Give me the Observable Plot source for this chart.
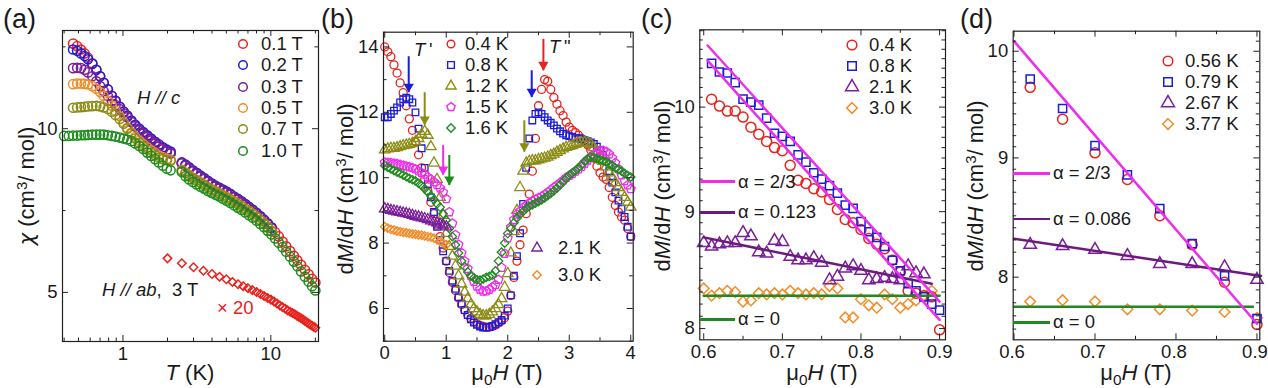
<!DOCTYPE html>
<html><head><meta charset="utf-8">
<script src="https://cdn.jsdelivr.net/npm/d3@7"></script>
<script src="https://cdn.jsdelivr.net/npm/@observablehq/plot@0.6"></script>
<style>
html,body{margin:0;padding:0;background:#fff;}
#fig{position:relative;width:1268px;height:388px;overflow:hidden;background:#fff;font-family:"Liberation Sans",Arial,Helvetica,sans-serif;color:#1a1a1a;}
.tx{position:absolute;white-space:nowrap;line-height:1;}
.c{transform:translate(-50%,-50%);}
.l{transform:translate(0,-50%);}
.rot{transform:translate(-50%,-50%) rotate(-90deg);}
sub{font-size:0.7em;vertical-align:-0.3em;line-height:0;}
sup{font-size:0.68em;vertical-align:0.5em;line-height:0;}
.chi{font-family:"DejaVu Sans",sans-serif;font-style:italic;font-size:0.95em;}
</style></head>
<body><div id="fig"></div>
<script>
// ---------------- colours ----------------
const RED = "#e8221c", BLUE = "#1c1cdb", PURPLE = "#7a1e9b", ORANGE = "#f28c28",
      OLIVE = "#8c8c14", GREEN = "#1e8c1e", MAGENTA = "#ee2dee", FITPURPLE = "#6d1a7e", FITGREEN = "#1f8a1f";

// ---------------- panel (a) data ----------------
const aTLow = [0.40,0.43,0.46,0.49,0.52,0.55,0.58,0.62,0.66,0.70,0.74,0.79,0.84,0.89,0.95,1.01,1.07,1.14,1.21,1.29,1.37,1.46,1.55,1.65,1.75,1.86,1.98,2.10];
const aTHigh = [2.50,2.65,2.80,2.97,3.15,3.34,3.54,3.75,3.98,4.22,4.47,4.74,5.02,5.32,5.64,5.98,6.34,6.72,7.12,7.55,8.00,8.48,8.99,9.53,10.1,10.7,11.3,12.0,12.7,13.5,14.3,15.1,16.0,17.0,18.0,19.0,20.0];
const aLabels = ["0.1 T","0.2 T","0.3 T","0.5 T","0.7 T","1.0 T"];
const aColors = [RED, BLUE, PURPLE, ORANGE, OLIVE, GREEN];
const aLow01 = [null,null,12.6,12.52,12.42,12.3,12.17,12.0,11.8,11.6,11.4,11.2,11.0,10.85,10.67,10.52,10.38,10.23,10.1,9.98,9.87,9.77,9.67,9.57,9.48,9.4,9.32,9.26];
const aLow02 = [null,null,12.42,12.38,12.3,12.22,12.12,11.98,11.8,11.6,11.4,11.2,11.0,10.85,10.67,10.52,10.4,10.25,10.12,10.0,9.9,9.8,9.7,9.6,9.52,9.43,9.36,9.3];
const aLow03 = [null,null,11.85,11.86,11.85,11.8,11.72,11.6,11.45,11.3,11.15,11.0,10.85,10.72,10.6,10.47,10.35,10.2,10.07,9.95,9.84,9.74,9.64,9.54,9.45,9.37,9.3,9.24];
const aLow05 = [null,null,11.36,11.38,11.38,11.37,11.35,11.3,11.22,11.12,11.0,10.85,10.7,10.55,10.38,10.2,10.03,9.88,9.75,9.63,9.53,9.43,9.34,9.26,9.18,9.13,9.08,9.05];
const aLow07 = [null,null,10.64,10.65,10.66,10.67,10.68,10.69,10.7,10.68,10.65,10.6,10.52,10.42,10.3,10.15,10.0,9.85,9.7,9.57,9.46,9.36,9.27,9.19,9.12,9.07,9.04,9.02];
const aLow10 = [9.78,9.78,9.79,9.79,9.8,9.8,9.81,9.82,9.82,9.82,9.82,9.8,9.78,9.76,9.73,9.7,9.67,9.62,9.55,9.47,9.38,9.27,9.17,9.07,8.97,8.87,8.78,8.73];
const aHigh01 = [8.95,8.88,8.8,8.71,8.63,8.55,8.47,8.39,8.31,8.24,8.18,8.12,8.06,7.99,7.91,7.84,7.76,7.68,7.59,7.5,7.41,7.31,7.2,7.09,6.97,6.84,6.71,6.55,6.41,6.26,6.12,5.98,5.84,5.69,5.55,5.41,5.3];
const aHigh02 = [8.97,8.9,8.82,8.73,8.65,8.57,8.49,8.41,8.33,8.26,8.2,8.14,8.08,8.01,7.93,7.86,7.78,7.7,7.61,7.52,7.43,7.33,7.22,7.11,6.99];
const aHigh03 = [8.94,8.87,8.79,8.7,8.62,8.54,8.46,8.38,8.3,8.23,8.17,8.11,8.05,7.98,7.9,7.83,7.75,7.67,7.58,7.49,7.4,7.3,7.19,7.08,6.96];
const aHigh05 = [8.74,8.66,8.58,8.5,8.43,8.36,8.29,8.22,8.15,8.09,8.03,7.97,7.91,7.85,7.78,7.71,7.64,7.56,7.48,7.4,7.31,7.21,7.11,7.0,6.88];
const aHigh07 = [8.72,8.64,8.56,8.49,8.42,8.35,8.28,8.21,8.14,8.08,8.02,7.96,7.9,7.84,7.77,7.7,7.63,7.55,7.47,7.39,7.3,7.2,7.1,6.99,6.87];
const aHigh10 = [8.68,8.55,8.45,8.37,8.3,8.23,8.17,8.1,8.04,7.98,7.93,7.86,7.8,7.73,7.66,7.59,7.52,7.44,7.36,7.28,7.19,7.09,6.99,6.88,6.77,6.65,6.52,6.38,6.24,6.09,5.94,5.8,5.64,5.48,5.33,5.19,5.06];
const abT = [2,2.5,3,3.5,4,4.5,5,5.5,6,6.5,7,7.5,8,8.5,9,9.5,10,10.5,11,11.5,12,12.5,13,13.5,14,14.5,15,15.5,16,16.5,17,17.5,18,18.5,19,19.5,20];
const abChi = [6.04,5.89,5.77,5.66,5.56,5.48,5.40,5.32,5.25,5.19,5.13,5.07,5.01,4.95,4.89,4.83,4.78,4.72,4.66,4.6,4.55,4.5,4.45,4.41,4.37,4.33,4.29,4.25,4.21,4.17,4.13,4.09,4.05,4.01,3.98,3.95,3.92];

// ---------------- panel (b) data ----------------
const bH = [0,0.05,0.1,0.15,0.2,0.25,0.3,0.35,0.4,0.45,0.5,0.55,0.6,0.65,0.7,0.75,0.8,0.85,0.9,0.95,
  1.0,1.05,1.1,1.15,1.2,1.25,1.3,1.35,1.4,1.45,1.5,1.55,1.6,1.65,1.7,1.75,1.8,1.85,1.9,1.95,
  2.0,2.05,2.1,2.15,2.2,2.25,2.3,2.35,2.4,2.45,2.5,2.55,2.6,2.65,2.7,2.75,2.8,2.85,2.9,2.95,
  3.0,3.05,3.1,3.15,3.2,3.25,3.3,3.35,3.4,3.45,3.5,3.55,3.6,3.65,3.7,3.75,3.8,3.85,3.9,3.95,4.0];
const b04 = [14.0,13.85,13.7,13.45,13.2,12.9,12.6,12.2,11.8,11.45, 11.1,10.7,10.3,9.95,9.6,9.25,8.9,8.55,8.2,7.85,
  7.45,7.1,6.8,6.55,6.32,6.12,5.95,5.8,5.7,5.6, 5.53,5.48,5.45,5.43,5.43,5.45,5.5,5.56,5.62,5.72,
  5.92,6.4,6.95,7.45,7.95,8.4,8.9,9.5,10.2,11.2, 12.2,12.7,13.0,12.95,12.7,12.45,12.25,12.05,11.9,11.7,
  11.55,11.45,11.38,11.3,11.2,11.1,11.0,10.85,10.6,10.35, 10.15,10.02,9.95,9.7,9.4,9.15,8.95,8.8,8.7,8.45, 8.2];
const b08 = [11.85,11.85,11.95,12.05,12.15,12.3,12.4,12.45,12.4,12.3, 12.0,11.5,10.9,10.3,9.8,9.4,8.95,8.5,8.1,7.75,
  7.45,7.15,6.85,6.6,6.35,6.15,5.95,5.8,5.67,5.57, 5.5,5.45,5.42,5.42,5.43,5.47,5.52,5.58,5.65,5.78,
  6.0,6.4,7.0,7.6,8.3,9.2,10.3,11.2,11.75,11.95, 12.0,11.95,11.85,11.75,11.68,11.6,11.5,11.42,11.35,11.3,
  11.27,11.25,11.22,11.2,11.18,11.15,11.12,11.08,11.03,10.95, 10.85,10.7,10.5,10.2,9.85,9.55,9.3,9.05,8.8,8.5, 8.2];
const b12 = [10.85,10.88,10.9,10.9,10.92,10.95,10.98,11.0,11.02,11.05, 11.1,11.2,11.33,11.42,11.3,10.95,10.45,9.95,9.4,8.85,
  8.3,7.9,7.6,7.3,7.0,6.75,6.5,6.3,6.12,6.0, 5.9,5.82,5.78,5.78,5.82,5.9,6.0,6.12,6.3,6.65,
  7.07,7.7,8.35,9.0,9.7,10.2,10.45,10.5,10.52,10.52, 10.55,10.58,10.6,10.63,10.68,10.72,10.78,10.83,10.88,10.93,
  10.96,10.98,11.02,11.05,11.07,11.08,11.06,11.02,10.92,10.8, 10.65,10.5,10.33,10.15,10.0,9.85,9.7,9.55,9.4,9.25, 9.1];
const b15 = [10.47,10.46,10.45,10.44,10.42,10.4,10.37,10.35,10.32,10.3, 10.26,10.2,10.15,10.1,10.02,9.95,9.87,9.78,9.68,9.55,
  9.35,8.95,8.6,8.25,7.95,7.7,7.45,7.22,7.0,6.82, 6.68,6.58,6.52,6.53,6.58,6.65,6.72,6.88,7.25,7.68,
  8.15,8.49,8.72,8.88,8.98,9.07,9.15,9.22,9.28,9.33, 9.38,9.42,9.48,9.55,9.62,9.7,9.77,9.84,9.92,10.0,
  10.06,10.12,10.19,10.26,10.34,10.43,10.53,10.63,10.72,10.78, 10.82,10.83,10.8,10.72,10.6,10.45,10.27,10.08,9.9,9.77, 9.66];
const b16 = [10.37,10.32,10.27,10.22,10.17,10.13,10.08,10.03,9.98,9.94, 9.9,9.83,9.76,9.66,9.56,9.45,9.33,9.2,9.1,8.9,
  8.7,8.45,8.2,7.95,7.7,7.45,7.28,7.12,7.0,6.93, 6.88,6.87,6.9,6.95,6.98,7.02,7.15,7.45,7.72,8.0,
  8.29,8.45,8.62,8.77,8.88,8.97,9.06,9.12,9.17,9.22, 9.27,9.32,9.38,9.45,9.52,9.6,9.68,9.78,9.88,9.98,
  10.07,10.15,10.22,10.3,10.4,10.5,10.58,10.63,10.62,10.58, 10.55,10.52,10.48,10.43,10.37,10.3,10.25,10.2,10.13,10.07, 10.02];
const b21 = [9.05,9.03,9.0,8.98,8.96,8.94,8.92,8.9,8.88,8.85, 8.82,8.8,8.77,8.75,8.72,8.68,8.65,8.62,8.58,8.55, 8.5];
const b30 = [8.5,8.46,8.42,8.4,8.37,8.35,8.33,8.32,8.3,8.28, 8.27,8.25,8.24,8.22,8.2,8.18,8.15,8.1,8.05,8.0, 7.95];
const bLabels = ["0.4 K","0.8 K","1.2 K","1.5 K","1.6 K"];
const bLabels2 = ["2.1 K","3.0 K"];
const arrowH = [0.39, 0.65, 0.95, 1.05, 2.27, 2.39, 2.58];
const arrowTop = [13.7, 12.6, 10.98, 10.68, 11.74, 13.27, 14.23];
const arrowTip = [12.6, 11.6, 10.07, 9.76, 10.78, 12.45, 13.27];
const arrowColor = [BLUE, OLIVE, MAGENTA, GREEN, OLIVE, BLUE, RED];

// ---------------- panel (c) data ----------------
const cH = [0.60,0.61,0.62,0.63,0.64,0.65,0.66,0.67,0.68,0.69,0.70,0.71,0.72,0.73,0.74,0.75,0.76,0.77,0.78,0.79,0.80,0.81,0.82,0.83,0.84,0.85,0.86,0.87,0.88,0.89,0.90];
const c04 = [null,10.08,10.01,9.96,9.96,9.90,9.80,9.73,9.66,9.60, 9.57,9.43,9.29,9.26,9.21,9.18,9.11,9.02,8.93,8.90, 8.84,8.76,8.71,8.67,8.57,8.47,8.31,8.29,8.27,8.26, 7.99];
const c08 = [null,10.45,10.36,10.35,10.25,10.08,10.05,10.02,9.89,9.74, 9.71,9.66,9.53,9.46,9.36,9.30,9.24,9.17,9.06,9.03, 8.91,8.82,8.77,8.69,8.57,8.48,8.37,8.31,8.26,8.20, 8.15];
const c21 = [8.72,8.69,8.71,8.72,8.72,8.81,8.78,8.64,8.63,8.74, 8.73,8.60,8.57,8.57,8.59,8.55,8.40,8.43,8.50,8.52, 8.48,8.40,8.41,8.42,8.41,8.40,8.52,8.46,8.45,null, null];
const c30 = [8.33,8.27,8.29,8.31,8.30,8.22,8.23,8.29,8.28,8.29, 8.28,8.31,8.29,8.28,8.29,8.28,8.35,8.33,8.09,8.09, 8.24,8.19,8.17,8.28,8.24,8.17,8.20,8.23,8.27,8.31, null];
const cLabels = ["0.4 K","0.8 K","2.1 K","3.0 K"];
const cFitUpper = [[0.605,10.64],[0.90,8.22]];
const cFitLower = [[0.605,10.48],[0.90,8.07]];
const cFit0123 = [[0.60,8.77],[0.89,8.37]];
const cFit0 = [[0.60,8.27],[0.90,8.27]];
const cAlpha = ["α = 2/3","α = 0.123","α = 0"];

// ---------------- panel (d) data ----------------
const dH = [0.62,0.66,0.70,0.74,0.78,0.82,0.86,0.90];
const d056 = [9.65,9.35,9.045,8.81,8.50,8.26,7.96,7.635];
const d079 = [9.73,9.45,9.11,8.85,8.56,8.27,8.01,7.68];
const d267 = [8.26,8.25,8.22,8.17,8.105,8.105,8.08,7.98];
const d377 = [7.81,7.82,7.81,7.75,7.75,7.74,7.73,7.685];
const dLabels = ["0.56 K","0.79 K","2.67 K","3.77 K"];
const dFit23 = [[0.60,10.1],[0.90,7.64]];
const dFit0086 = [[0.60,8.31],[0.905,8.01]];
const dFit0 = [[0.60,7.77],[0.895,7.77]];
const dAlpha = ["α = 2/3","α = 0.086","α = 0"];

// ---------------- helpers ----------------
const FONT = '"Liberation Sans", Arial, Helvetica, sans-serif';
const TICKFS = 18.5;
const fig = document.getElementById("fig");
const pentagon = {draw(ctx, size) {
  const R = Math.sqrt(size / 2.3776);
  for (let i = 0; i < 5; i++) {
    const a = -Math.PI / 2 + i * 2 * Math.PI / 5;
    const px = R * Math.cos(a), py = R * Math.sin(a);
    if (i === 0) ctx.moveTo(px, py); else ctx.lineTo(px, py);
  }
  ctx.closePath();
}};
const SYM = {circle: d3.symbolCircle, square: d3.symbolSquare, triangle: d3.symbolTriangle, diamond: d3.symbolDiamond2, pentagon};

function pts(xs, ys) { return xs.map((x, i) => ({x, y: ys[i]})).filter(d => d.y != null); }
function seg(p) { return p.map(([x, y]) => ({x, y})); }

function panel({left, width, mL, mR, mT, mB, x, y, xMaj, xMin, yMaj, yMin, marks, xdx = 0}) {
  const H = 388, fw = width - mL - mR, fh = H - mT - mB, s = "#222", L = 6, l = 3.5;
  const f = d => String(d);
  const tk = [
    Plot.tickX(xMaj, {x: d => d, insetTop: fh - L, stroke: s}),
    Plot.tickX(xMaj, {x: d => d, insetBottom: fh - L, stroke: s}),
    Plot.tickX(xMin, {x: d => d, insetTop: fh - l, stroke: s}),
    Plot.tickX(xMin, {x: d => d, insetBottom: fh - l, stroke: s}),
    Plot.tickY(yMaj, {y: d => d, insetRight: fw - L, stroke: s}),
    Plot.tickY(yMaj, {y: d => d, insetLeft: fw - L, stroke: s}),
    Plot.tickY(yMin, {y: d => d, insetRight: fw - l, stroke: s}),
    Plot.tickY(yMin, {y: d => d, insetLeft: fw - l, stroke: s})
  ];
  const svg = Plot.plot({
    width, height: H, marginLeft: mL, marginRight: mR, marginTop: mT, marginBottom: mB,
    x: {...x, axis: null}, y: {...y, axis: null},
    style: {fontFamily: FONT, fontSize: TICKFS + "px", color: "#1a1a1a", background: "transparent", overflow: "visible"},
    marks: [
      ...marks, ...tk,
      Plot.frame({stroke: s, strokeWidth: 1.2}),
      Plot.text(xMaj, {x: d => d, text: f, frameAnchor: "bottom", lineAnchor: "top", dy: 5, dx: xdx, fontSize: TICKFS, fill: "#1a1a1a"}),
      Plot.text(yMaj, {y: d => d, text: f, frameAnchor: "left", textAnchor: "end", dx: -5, fontSize: TICKFS, fill: "#1a1a1a"})
    ]
  });
  svg.style.position = "absolute"; svg.style.left = left + "px"; svg.style.top = "0px";
  fig.appendChild(svg);
}

function txt(x, y, html, cls, size, extra) {
  const d = document.createElement("div");
  d.className = "tx " + cls;
  d.style.left = x + "px"; d.style.top = y + "px"; d.style.fontSize = size + "px";
  if (extra) d.style.cssText += extra;
  d.innerHTML = html;
  fig.appendChild(d);
}
function legendSym(cx, cy, sym, r, color, sw) {
  const s = d3.create("svg").attr("width", 30).attr("height", 30)
    .style("position", "absolute").style("left", (cx - 15) + "px").style("top", (cy - 15) + "px");
  s.append("path").attr("transform", "translate(15,15)").attr("d", d3.symbol(sym, Math.PI * r * r)())
    .attr("fill", "none").attr("stroke", color).attr("stroke-width", sw);
  fig.appendChild(s.node());
}
function legendLine(x1, x2, y, color) {
  const d = document.createElement("div");
  d.style.cssText = `position:absolute;left:${x1}px;top:${y - 1.3}px;width:${x2 - x1}px;height:2.6px;background:${color};`;
  fig.appendChild(d);
}
function dots(data, sym, r, color, sw) {
  return Plot.dot(data, {x: "x", y: "y", symbol: sym, r, stroke: color, fill: "none", strokeWidth: sw});
}

// ---------------- panel (a) ----------------
const aLowSets = [aLow01, aLow02, aLow03, aLow05, aLow07, aLow10];
const aHighSets = [aHigh01, aHigh02, aHigh03, aHigh05, aHigh07, aHigh10];
const aMarks = [];
aLowSets.forEach((v, i) => {
  aMarks.push(dots(pts(aTLow, v), SYM.circle, 4.6, aColors[i], 1.5));
  aMarks.push(dots(pts(aTHigh, aHighSets[i]), SYM.circle, 4.6, aColors[i], 1.5));
});
aMarks.push(dots(pts(abT, abChi), SYM.diamond, 3.8, RED, 1.5));
panel({left: 0, width: 330, mL: 62, mR: 12, mT: 30, mB: 47,
  x: {type: "log", domain: [0.39, 21]}, y: {domain: [3.5, 13]},
  xMaj: [1, 10], xMin: [0.4,0.5,0.6,0.7,0.8,0.9,2,3,4,5,6,7,8,9,20],
  yMaj: [5, 10], yMin: [7.5, 12.5], marks: aMarks});

// ---------------- panel (b) ----------------
const bMarks = [
  dots(pts(bH, b04), SYM.circle, 4.0, RED, 1.3),
  dots(pts(bH, b08), SYM.square, 3.7, BLUE, 1.3),
  dots(pts(bH, b12), SYM.triangle, 3.9, OLIVE, 1.3),
  dots(pts(bH, b15), SYM.pentagon, 4.0, MAGENTA, 1.3),
  dots(pts(bH, b16), SYM.diamond, 3.8, GREEN, 1.3),
  dots(pts(bH, b21), SYM.triangle, 3.9, PURPLE, 1.3),
  dots(pts(bH, b30), SYM.diamond, 3.8, ORANGE, 1.3)
];
const arrows = arrowH.map((x, i) => ({x, y1: arrowTop[i], y2: arrowTip[i], c: arrowColor[i]}));
bMarks.push(Plot.ruleX(arrows, {x: "x", y1: "y1", y2: "y2", stroke: "c", strokeWidth: 2}));
bMarks.push(Plot.dot(arrows, {x: "x", y: "y2", symbol: "triangle", rotate: 180, r: 3.8, fill: "c", stroke: "none", dy: -6}));
panel({left: 330, width: 320, mL: 53, mR: 17.3, mT: 31.7, mB: 47.3,
  x: {domain: [-0.02, 4.04]}, y: {domain: [5.0, 14.45]},
  xMaj: [0,1,2,3,4], xMin: [0.5,1.5,2.5,3.5],
  yMaj: [6,8,10,12,14], yMin: [5,7,9,11,13], marks: bMarks});

// ---------------- panel (c) ----------------
const cMin = [8.1,8.2,8.3,8.4,8.5,8.6,8.7,8.8,8.9,9.1,9.2,9.3,9.4,9.5,9.6,9.7,9.8,9.9,10.1,10.2,10.3,10.4,10.5,10.6,10.7,10.8];
const cMarks = [
  dots(pts(cH, c30), SYM.diamond, 4.8, ORANGE, 1.5),
  dots(pts(cH, c21), SYM.triangle, 4.6, PURPLE, 1.5),
  dots(pts(cH, c04), SYM.circle, 5, RED, 1.5),
  dots(pts(cH, c08), SYM.square, 4.6, BLUE, 1.5),
  Plot.line(seg(cFit0), {x: "x", y: "y", stroke: FITGREEN, strokeWidth: 2.5}),
  Plot.line(seg(cFit0123), {x: "x", y: "y", stroke: FITPURPLE, strokeWidth: 2.5}),
  Plot.line(seg(cFitUpper), {x: "x", y: "y", stroke: MAGENTA, strokeWidth: 2.5}),
  Plot.line(seg(cFitLower), {x: "x", y: "y", stroke: MAGENTA, strokeWidth: 2.5})
];
panel({left: 650, width: 310, mL: 49.3, mR: 15, mT: 29.3, mB: 48.7,
  x: {domain: [0.595, 0.9075]}, y: {type: "log", domain: [7.91, 10.81]},
  xMaj: [0.6,0.7,0.8,0.9], xMin: [0.65,0.75,0.85],
  yMaj: [8,9,10], yMin: cMin, marks: cMarks});

// ---------------- panel (d) ----------------
const dMin = [7.6,7.7,7.8,7.9,8.1,8.2,8.3,8.4,8.5,8.6,8.7,8.8,8.9,9.1,9.2,9.3,9.4,9.5,9.6,9.7,9.8,9.9,10.1];
const dMarks = [
  dots(pts(dH, d377), SYM.diamond, 4.8, ORANGE, 1.5),
  dots(pts(dH, d267), SYM.triangle, 4.6, PURPLE, 1.5),
  dots(pts(dH, d056), SYM.circle, 5, RED, 1.5),
  dots(pts(dH, d079), SYM.square, 4.6, BLUE, 1.5),
  Plot.line(seg(dFit0), {x: "x", y: "y", stroke: FITGREEN, strokeWidth: 2.5}),
  Plot.line(seg(dFit0086), {x: "x", y: "y", stroke: FITPURPLE, strokeWidth: 2.5}),
  Plot.line(seg(dFit23), {x: "x", y: "y", stroke: MAGENTA, strokeWidth: 2.5})
];
panel({left: 960, width: 308, mL: 52.7, mR: 8.7, mT: 30.7, mB: 48.7,
  x: {domain: [0.599, 0.9035]}, y: {type: "log", domain: [7.52, 10.2]},
  xMaj: [0.6,0.7,0.8,0.9], xMin: [0.65,0.75,0.85], xdx: -2,
  yMaj: [8,9,10], yMin: dMin, marks: dMarks});

// ---------------- text overlays ----------------
const PL = 27, AX = 22, TL = 18.5;
txt(3, 19, "(a)", "l", PL); txt(321, 19, "(b)", "l", PL); txt(641, 19, "(c)", "l", PL); txt(960, 19, "(d)", "l", PL);
const yLab = 'd<i>M</i>/d<i>H</i> (cm<sup>3</sup>/ mol)';
const xLab = 'μ<sub>0</sub><i>H</i> (T)';
txt(27, 186, '<span class="chi">χ</span> (cm<sup>3</sup>/ mol)', "rot", AX);
txt(346, 189, yLab, "rot", AX);
txt(663, 186, yLab, "rot", AX);
txt(976, 186, yLab, "rot", AX);
txt(190, 373, '<i>T</i> (K)', "c", AX);
txt(507, 373, xLab, "c", AX);
txt(822, 373, xLab, "c", AX);
txt(1136, 373, xLab, "c", AX);

// panel (a) legend + notes
aLabels.forEach((t, i) => { legendSym(243, 44 + 21.3 * i, SYM.circle, 4.3, aColors[i], 1.5); txt(261, 44 + 21.3 * i, t, "l", TL); });
txt(137, 98, '<i>H // c</i>', "l", TL);
txt(102, 290, '<i>H // ab</i>,&nbsp; 3 T', "l", TL);
txt(217, 308, '× 20', "l", TL, "color:" + RED + ";");

// panel (b) legend + notes
const bSyms = [SYM.circle, SYM.square, SYM.triangle, SYM.pentagon, SYM.diamond];
const bCols = [RED, BLUE, OLIVE, MAGENTA, GREEN];
bLabels.forEach((t, i) => { legendSym(451, 44 + 21 * i, bSyms[i], 3.8, bCols[i], 1.4); txt(465, 44 + 21 * i, t, "l", TL); });
legendSym(537, 248, SYM.triangle, 3.8, PURPLE, 1.4); txt(558, 248, bLabels2[0], "l", TL);
legendSym(537, 275, SYM.diamond, 3.8, ORANGE, 1.4); txt(558, 275, bLabels2[1], "l", TL);
txt(414, 50, "<i>T</i>&thinsp;'", "l", TL);
txt(549, 47, "<i>T</i>&thinsp;\"", "l", TL);

// panel (c) legend
const cdSyms = [SYM.circle, SYM.square, SYM.triangle, SYM.diamond];
const cdCols = [RED, BLUE, PURPLE, ORANGE];
cLabels.forEach((t, i) => { legendSym(852, 45 + 21 * i, cdSyms[i], 4.8, cdCols[i], 1.5); txt(869, 45 + 21 * i, t, "l", TL); });
const alphaCols = [MAGENTA, FITPURPLE, FITGREEN];
[181.7, 212.3, 319.3].forEach((y, i) => { legendLine(699.5, 735, y, alphaCols[i]); txt(738, y, cAlpha[i], "l", TL); });

// panel (d) legend
dLabels.forEach((t, i) => { legendSym(1168, 61 + 21 * i, cdSyms[i], 4.8, cdCols[i], 1.5); txt(1185, 61 + 21 * i, t, "l", TL); });
[173.3, 219, 322.3].forEach((y, i) => { legendLine(1013, 1050, y, alphaCols[i]); txt(1053, y, dAlpha[i], "l", TL); });
</script></body></html>
